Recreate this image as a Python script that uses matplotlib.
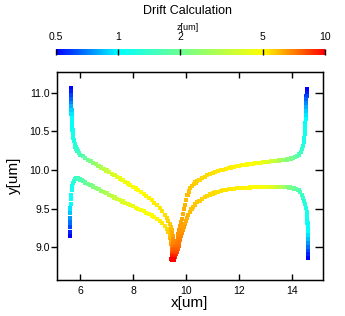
import numpy as np
import matplotlib
matplotlib.use("Agg")
import matplotlib.pyplot as plt
from matplotlib.colors import LogNorm, LinearSegmentedColormap
from matplotlib.colorbar import ColorbarBase

plt.rcParams['font.family'] = ['Liberation Sans', 'DejaVu Sans']

# ---- data: four drift paths (x, y in um; z = depth in um) ----
x_ul = [5.65, 5.65, 5.66, 5.66, 5.67, 5.67, 5.68, 5.68, 5.69, 5.70, 5.71, 5.72, 5.73, 5.75, 5.77, 5.80, 5.83, 5.87, 5.91, 5.96, 6.01,
        6.1, 6.2, 6.3, 6.4, 6.5, 6.6, 6.7, 6.8, 6.9, 7.0, 7.1, 7.2, 7.3, 7.4, 7.5, 7.6, 7.7, 7.8, 7.9, 8.0,
        8.1, 8.2, 8.3, 8.4, 8.5, 8.6, 8.7, 8.8, 8.9, 9.0, 9.1, 9.2,
        9.27, 9.33, 9.38, 9.42, 9.45, 9.48, 9.50, 9.51, 9.52, 9.52, 9.51, 9.50, 9.48, 9.47, 9.46]
y_ul = [11.06, 11.02, 10.97, 10.92, 10.87, 10.82, 10.77, 10.72, 10.67, 10.62, 10.57, 10.52, 10.47, 10.42, 10.38, 10.34, 10.30, 10.27, 10.24, 10.215, 10.195,
        10.175, 10.153, 10.132, 10.112, 10.092, 10.072, 10.052, 10.032, 10.012, 9.992, 9.971, 9.950, 9.930, 9.909, 9.888, 9.867, 9.846, 9.825, 9.804, 9.782,
        9.760, 9.737, 9.713, 9.688, 9.662, 9.635, 9.606, 9.575, 9.542, 9.506, 9.466, 9.421,
        9.38, 9.34, 9.30, 9.26, 9.22, 9.18, 9.14, 9.10, 9.06, 9.02, 8.98, 8.94, 8.90, 8.87, 8.84]
z_ul = [0.50, 0.54, 0.59, 0.65, 0.72, 0.80, 0.88, 0.95, 1.00, 1.03, 1.06, 1.09, 1.12, 1.16, 1.20, 1.25, 1.30, 1.36, 1.42, 1.49, 1.58,
        1.70, 1.85, 2.00, 2.17, 2.35, 2.55, 2.76, 2.98, 3.20, 3.42, 3.63, 3.83, 4.01, 4.17, 4.31, 4.44, 4.56, 4.66, 4.75, 4.83,
        4.90, 4.96, 5.01, 5.05, 5.09, 5.13, 5.17, 5.21, 5.25, 5.30, 5.36, 5.43,
        5.52, 5.62, 5.74, 5.88, 6.03, 6.2, 6.4, 6.65, 6.9, 7.2, 7.6, 8.1, 8.7, 9.3, 10.0]

x_ll = [5.62, 5.62, 5.62, 5.63, 5.63, 5.64, 5.64, 5.65, 5.66, 5.67, 5.69, 5.71, 5.74, 5.77, 5.81, 5.86, 5.91, 5.96, 6.01, 6.06,
        6.1, 6.2, 6.3, 6.4, 6.5, 6.6, 6.7, 6.8, 6.9, 7.0, 7.1, 7.2, 7.3, 7.4, 7.5, 7.6, 7.7, 7.8, 7.9, 8.0,
        8.1, 8.2, 8.3, 8.4, 8.5, 8.6, 8.7, 8.8, 8.9, 9.0, 9.1, 9.2,
        9.27, 9.33, 9.38, 9.41, 9.43, 9.45, 9.46, 9.46, 9.46, 9.46, 9.45]
y_ll = [9.15, 9.20, 9.26, 9.32, 9.38, 9.44, 9.50, 9.56, 9.62, 9.68, 9.74, 9.79, 9.83, 9.86, 9.88, 9.89, 9.89, 9.885, 9.875, 9.865,
        9.856, 9.838, 9.820, 9.802, 9.785, 9.768, 9.750, 9.732, 9.714, 9.696, 9.678, 9.660, 9.643, 9.626, 9.609, 9.592, 9.576, 9.560, 9.544, 9.528,
        9.512, 9.496, 9.480, 9.463, 9.446, 9.428, 9.409, 9.388, 9.365, 9.339, 9.309, 9.274,
        9.24, 9.20, 9.16, 9.12, 9.08, 9.04, 9.00, 8.96, 8.92, 8.88, 8.85]
z_ll = [0.50, 0.55, 0.61, 0.68, 0.76, 0.85, 0.93, 1.00, 1.04, 1.08, 1.12, 1.16, 1.21, 1.27, 1.33, 1.40, 1.47, 1.54, 1.61, 1.68,
        1.76, 1.86, 1.97, 2.09, 2.22, 2.36, 2.50, 2.65, 2.80, 2.96, 3.12, 3.28, 3.44, 3.60, 3.75, 3.90, 4.04, 4.17, 4.29, 4.40,
        4.50, 4.59, 4.67, 4.75, 4.82, 4.89, 4.96, 5.03, 5.10, 5.18, 5.27, 5.37,
        5.5, 5.65, 5.8, 6.0, 6.2, 6.45, 6.8, 7.3, 8.0, 8.9, 9.8]

x_ur = [14.55, 14.54, 14.53, 14.52, 14.52, 14.51, 14.51, 14.50, 14.50, 14.49, 14.49, 14.48, 14.47, 14.45, 14.43, 14.40, 14.36, 14.31, 14.25,
        14.18, 14.11, 14.03, 13.95, 13.87, 13.79, 13.70,
        13.6, 13.5, 13.4, 13.3, 13.2, 13.1, 13.0, 12.9, 12.8, 12.7, 12.6, 12.5, 12.4, 12.3, 12.2, 12.1, 12.0,
        11.9, 11.8, 11.7, 11.6, 11.5, 11.4, 11.3, 11.2, 11.1, 11.0, 10.9, 10.8, 10.7, 10.6, 10.5,
        10.42, 10.35, 10.28, 10.22, 10.16,
        10.10, 10.05, 10.00, 9.95, 9.91, 9.87, 9.83, 9.80, 9.77, 9.74, 9.71, 9.68, 9.66, 9.64, 9.62, 9.60, 9.58, 9.56, 9.54, 9.52]
y_ur = [11.04, 11.00, 10.96, 10.91, 10.86, 10.81, 10.76, 10.71, 10.66, 10.61, 10.56, 10.51, 10.46, 10.41, 10.36, 10.31, 10.27, 10.23, 10.20,
        10.18, 10.165, 10.155, 10.147, 10.14, 10.135, 10.13,
        10.125, 10.121, 10.117, 10.113, 10.110, 10.106, 10.102, 10.098, 10.094, 10.090, 10.085, 10.080, 10.075, 10.070, 10.064, 10.058, 10.052,
        10.046, 10.039, 10.031, 10.023, 10.014, 10.004, 9.994, 9.983, 9.971, 9.958, 9.944, 9.929, 9.912, 9.894, 9.874,
        9.856, 9.836, 9.814, 9.790, 9.762,
        9.72, 9.67, 9.61, 9.55, 9.49, 9.43, 9.37, 9.32, 9.27, 9.22, 9.17, 9.12, 9.08, 9.04, 9.00, 8.96, 8.92, 8.89, 8.86, 8.84]
z_ur = [0.50, 0.54, 0.59, 0.65, 0.72, 0.80, 0.88, 0.95, 1.00, 1.03, 1.06, 1.09, 1.12, 1.16, 1.20, 1.25, 1.38, 1.46, 1.56,
        1.68, 1.80, 1.93, 2.06, 2.19, 2.32, 2.45,
        2.65, 2.90, 3.15, 3.40, 3.65, 3.88, 4.10, 4.30, 4.47, 4.60, 4.72, 4.82, 4.90, 4.96, 5.01, 5.05, 5.09,
        5.12, 5.15, 5.18, 5.21, 5.24, 5.27, 5.30, 5.33, 5.36, 5.39, 5.42, 5.45, 5.49, 5.53, 5.57,
        5.62, 5.66, 5.70, 5.75, 5.80,
        5.86, 5.92, 5.98, 6.05, 6.12, 6.20, 6.28, 6.37, 6.47, 6.58, 6.70, 6.84, 7.0, 7.2, 7.45, 7.75, 8.1, 8.6, 9.2, 10.0]

x_lr = [14.60, 14.60, 14.60, 14.60, 14.60, 14.59, 14.59, 14.58, 14.58, 14.57, 14.56, 14.55, 14.54, 14.52, 14.49, 14.45, 14.41, 14.36, 14.30,
        14.23, 14.15, 14.07, 13.98, 13.89, 13.80,
        13.7, 13.6, 13.5, 13.4, 13.3, 13.2, 13.1, 13.0, 12.9, 12.8, 12.7, 12.6, 12.5, 12.4, 12.3, 12.2, 12.1, 12.0,
        11.9, 11.8, 11.7, 11.6, 11.5, 11.4, 11.3, 11.2, 11.1, 11.0, 10.9, 10.8, 10.7, 10.6, 10.5,
        10.42, 10.34, 10.27, 10.20, 10.14, 10.08, 10.03, 9.98, 9.94, 9.90, 9.86, 9.83, 9.80, 9.77, 9.74, 9.71, 9.68, 9.65, 9.62, 9.58, 9.54]
y_lr = [8.86, 8.91, 8.96, 9.01, 9.06, 9.11, 9.16, 9.21, 9.26, 9.31, 9.36, 9.41, 9.46, 9.51, 9.56, 9.60, 9.64, 9.68, 9.71,
        9.735, 9.75, 9.76, 9.768, 9.773, 9.776,
        9.778, 9.779, 9.780, 9.781, 9.782, 9.782, 9.782, 9.782, 9.781, 9.780, 9.779, 9.777, 9.775, 9.773, 9.771, 9.769, 9.767, 9.765,
        9.762, 9.758, 9.753, 9.748, 9.742, 9.735, 9.727, 9.718, 9.707, 9.695, 9.682, 9.667, 9.649, 9.628, 9.603,
        9.580, 9.553, 9.525, 9.492, 9.460, 9.420, 9.380, 9.340, 9.300, 9.260, 9.220, 9.180, 9.140, 9.100, 9.060, 9.020, 8.980, 8.940, 8.910, 8.880, 8.850]
z_lr = [0.50, 0.55, 0.61, 0.68, 0.76, 0.85, 0.93, 1.00, 1.03, 1.06, 1.09, 1.12, 1.15, 1.19, 1.24, 1.30, 1.37, 1.45, 1.54,
        1.64, 1.75, 1.87, 2.00, 2.13, 2.30,
        2.60, 2.90, 3.20, 3.50, 3.80, 4.05, 4.28, 4.48, 4.64, 4.77, 4.87, 4.94, 5.00, 5.04, 5.08, 5.11, 5.14, 5.17,
        5.20, 5.23, 5.26, 5.29, 5.32, 5.35, 5.38, 5.41, 5.44, 5.47, 5.50, 5.54, 5.58, 5.62, 5.66,
        5.71, 5.77, 5.83, 5.90, 5.97, 6.05, 6.13, 6.22, 6.32, 6.43, 6.55, 6.68, 6.82, 6.98, 7.16, 7.37, 7.62, 7.92, 8.3, 8.9, 10.0]

cbar_ticks = [0.5, 1, 2, 5, 10]
cbar_labels = ['0.5', '1', '2', '5', '10']
x_ticks = [6, 8, 10, 12, 14]
y_ticks = [9.0, 9.5, 10.0, 10.5, 11.0]

# ---- figure ----
cmap = LinearSegmentedColormap.from_list(
    'drift', [(0.0, (0, 0, 1)), (0.2314, (0, 1, 1)), (0.7686, (1, 1, 0)), (1.0, (1, 0, 0))])
norm = LogNorm(vmin=0.5, vmax=10)

fig = plt.figure(figsize=(3.45, 3.16), dpi=100)
ax = fig.add_axes([0.164, 0.115, 0.772, 0.658])
cax = fig.add_axes([0.162, 0.825, 0.780, 0.021])

X = np.concatenate([x_ul, x_ll, x_ur, x_lr])
Y = np.concatenate([y_ul, y_ll, y_ur, y_lr])
Z = np.concatenate([z_ul, z_ll, z_ur, z_lr])
order = np.argsort(Z, kind='stable')
ax.scatter(X[order], Y[order], c=Z[order], cmap=cmap, norm=norm,
           marker='s', s=9, linewidths=0, zorder=3)

ax.set_xlim(5.12, 15.15)
ax.set_ylim(8.58, 11.27)
ax.set_xticks(x_ticks)
ax.set_yticks(y_ticks)
ax.set_yticklabels([f'{v:.1f}' for v in y_ticks])
ax.tick_params(axis='x', direction='in', top=True, length=4.5, width=1,
               labelsize=7.5, pad=4.5)
ax.tick_params(axis='y', direction='out', right=False, length=4, width=1,
               labelsize=7.5, pad=1)
for s in ax.spines.values():
    s.set_linewidth(1.0)
ax.set_xlabel('x[um]', fontsize=11, labelpad=0)
ax.set_ylabel('y[um]', fontsize=11, labelpad=6)

axr = ax.twinx()
axr.set_ylim(ax.get_ylim())
axr.set_yticks(y_ticks)
axr.tick_params(axis='y', direction='in', length=5.5, width=1, labelright=False)

cb = ColorbarBase(cax, cmap=cmap, norm=norm, orientation='horizontal')
cb.outline.set_visible(False)
cax.minorticks_off()
cax.xaxis.set_ticks_position('top')
cax.set_xticks(cbar_ticks)
cax.set_xticklabels(cbar_labels)
cax.tick_params(axis='x', direction='in', length=4, width=1, labelsize=7.5, pad=4.5,
                top=True, bottom=False, labeltop=True, labelbottom=False)
cax.minorticks_off()

fig.text(0.544, 0.965, 'Drift Calculation', ha='center', va='center', fontsize=9)
fig.text(0.544, 0.914, 'z[um]', ha='center', va='center', fontsize=6.5)

fig.savefig('out.png', dpi=100)
